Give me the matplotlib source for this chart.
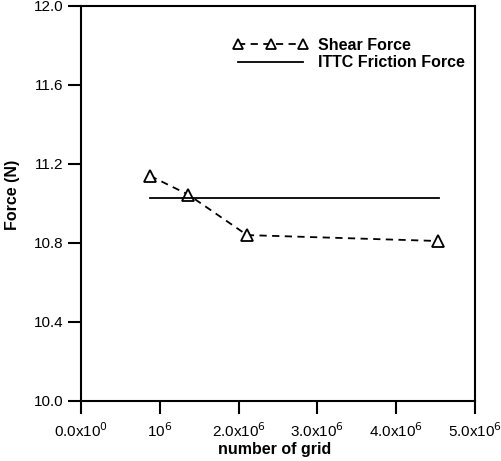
import matplotlib
matplotlib.use('Agg')
from matplotlib import pyplot as plt

plt.rcParams['font.family'] = ['Liberation Sans', 'DejaVu Sans']

# 数据
grid_num = [0.876e6, 1.36e6, 2.107e6, 4.53e6]
shear_force = [11.14, 11.045, 10.84, 10.81]

ittc_x = [0.876e6, 4.54e6]
ittc_force = [11.03, 11.03]

x_ticks = [0, 1e6, 2e6, 3e6, 4e6, 5e6]
x_labels = [r'0.0x10$^{0}$', r'10$^{6}$', r'2.0x10$^{6}$',
            r'3.0x10$^{6}$', r'4.0x10$^{6}$', r'5.0x10$^{6}$']
y_ticks = [10.0, 10.4, 10.8, 11.2, 11.6, 12.0]
y_labels = ['10.0', '10.4', '10.8', '11.2', '11.6', '12.0']

fig = plt.figure(figsize=(5.02, 4.61), dpi=100)
ax = fig.add_axes([0.1614, 0.1302, 0.7849, 0.8568])

ax.plot(grid_num, shear_force, c='black', ls='--', dashes=(4, 3), lw=1.3,
        marker='^', markersize=8, markerfacecolor='white',
        markeredgecolor='black', markeredgewidth=1.3, label='Shear Force')
ax.plot(ittc_x, ittc_force, c='black', lw=1.3, label='ITTC Friction Force')

ax.set_xlim(0, 5e6)
ax.set_ylim(10.0, 12.0)
ax.set_xticks(x_ticks)
ax.set_xticklabels(x_labels)
ax.set_yticks(y_ticks)
ax.set_yticklabels(y_labels)

for side in ax.spines.values():
    side.set_linewidth(1.5)
ax.tick_params(axis='both', which='major', labelsize=11, length=9.5, width=1.5,
               direction='out', top=False, right=False)
ax.tick_params(axis='x', pad=5)
ax.tick_params(axis='y', pad=3)

ax.set_xlabel('number of grid', fontsize=11.5, fontweight='bold')
ax.set_ylabel('Force (N)', fontsize=11.5, fontweight='bold')
ax.xaxis.set_label_coords(0.492, -0.103)
ax.yaxis.set_label_coords(-0.155, 0.521)

leg = ax.legend(loc='upper left', bbox_to_anchor=(0.37, 0.935), frameon=False,
                numpoints=3, handlelength=4.7, handletextpad=0.6,
                markerscale=0.85, borderaxespad=0,
                prop={'size': 11.5, 'weight': 'bold'}, labelspacing=0.15)

fig.savefig('out.png', dpi=100)
